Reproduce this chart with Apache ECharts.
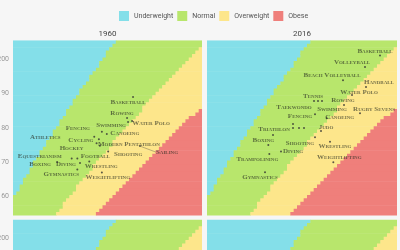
<!DOCTYPE html>
<html>
<head>
<meta charset="utf-8">
<style>
  html, body { margin: 0; padding: 0; background: #f6f6f6; overflow: hidden; }
  #chart { width: 400px; height: 420px; }
</style>
<script src="https://cdn.jsdelivr.net/npm/echarts@6/dist/echarts.min.js"></script>
</head>
<body>
<div id="chart"></div>
<script>
// BMI classes used for the background
const bmiClasses = ['Underweight', 'Normal', 'Overweight', 'Obese'];
const bmiLimits = [18.5, 25, 30];
const classColors = ['#84dfe9', '#b8e66c', '#fde68b', '#ef7f7b'];

// grid of the background (1 kg x 1 cm cells)
const heightRange = [155, 205];
const weightRange = [47.5, 103.5];
const yTicks = [160, 170, 180, 190, 200];
const years = ['1960', '2016'];

// 1960
const sports1960 = ['Basketball', 'Rowing', 'Swimming', 'Water Polo', 'Fencing', 'Canoeing', 'Athletics',
    'Cycling', 'Hockey', 'Modern Pentathlon', 'Shooting', 'Sailing', 'Equestrianism', 'Football',
    'Wrestling', 'Boxing', 'Diving', 'Gymnastics', 'Weightlifting'];
const weight1960 = [83.2, 81.4, 81.7, 82.9, 73.8, 75.3, 71.5, 72.9, 72.2, 73.2, 75.7, 85.3, 64.7, 66.4,
    70.0, 60.3, 67.2, 66.4, 73.8];
const height1960 = [189.0, 182.9, 181.7, 182.0, 178.9, 178.2, 177.4, 176.7, 175.5, 174.8, 173.1, 174.7,
    171.1, 171.1, 170.2, 170.1, 169.8, 167.9, 167.0];

// 2016
const sports2016 = ['Basketball', 'Volleyball', 'Beach Volleyball', 'Handball', 'Water Polo', 'Tennis',
    'Taekwondo', 'Swimming', 'Rowing', 'Rugby Sevens', 'Fencing', 'Canoeing', 'Judo', 'Athletics',
    'Cycling', 'Hockey', 'Football', 'Triathlon', 'Shooting', 'Wrestling', 'Boxing', 'Diving',
    'Trampolining', 'Weightlifting', 'Gymnastics'];
const weight2016 = [98.9, 94.4, 87.8, 94.7, 90.5, 79.1, 80.3, 81.5, 88.1, 92.9, 79.4, 82.9, 81.2, 72.8,
    72.8, 74.6, 76.1, 66.8, 79.4, 83.9, 65.4, 69.2, 65.7, 84.9, 64.4];
const height2016 = [201.1, 197.7, 193.9, 191.9, 189.6, 187.8, 187.8, 187.8, 186.7, 184.3, 184.0, 182.8,
    179.1, 181.1, 180.0, 180.0, 180.0, 177.9, 177.3, 176.0, 175.0, 173.1, 172.4, 170.0, 167.1];
const unlabeled2016 = ['Athletics', 'Cycling', 'Hockey', 'Football'];

// where each label sits, relative to its dot (px)
const labelShift = [{
    'Basketball': [-5, 5], 'Rowing': [-5, -5], 'Swimming': [-17, 3], 'Water Polo': [19, 2],
    'Fencing': [-24, -3], 'Canoeing': [18, -1], 'Athletics': [-49, 0], 'Cycling': [-18, 1],
    'Hockey': [-25, 5], 'Modern Pentathlon': [29, -2], 'Shooting': [20, 3], 'Sailing': [27, 6],
    'Equestrianism': [-32, -2], 'Football': [18, -2], 'Wrestling': [12, 5], 'Boxing': [-17, 2],
    'Diving': [-14, 1], 'Gymnastics': [-16, 5], 'Weightlifting': [6, 5]
}, {
    'Basketball': [-5, -4], 'Volleyball': [-13, -5], 'Beach Volleyball': [-11, -5], 'Handball': [13, -5],
    'Water Polo': [7, -3], 'Tennis': [-1, -5], 'Taekwondo': [-24, 6], 'Swimming': [10, 8],
    'Rowing': [-1, -5], 'Rugby Sevens': [14, -4], 'Fencing': [-15, 2], 'Canoeing': [13, -1],
    'Judo': [5, -4], 'Triathlon': [1, -6], 'Shooting': [-15, 6], 'Wrestling': [5, 5],
    'Boxing': [-5, -5], 'Diving': [12, 0], 'Trampolining': [-12, 5], 'Weightlifting': [6, -5],
    'Gymnastics': [-5, 5]
}];

function bmiClass(w, h) {
    let bmi = w / Math.pow(h / 100, 2);
    let c = 0;
    bmiLimits.forEach(function (l) { if (bmi >= l) c++; });
    return c;
}

// one row segment per height and class: [wStart, wEnd, h]
function classRows(c) {
    let rows = [];
    for (let h = heightRange[0]; h <= heightRange[1]; h++) {
        let ws = [];
        for (let w = weightRange[0]; w <= weightRange[1]; w++) {
            if (bmiClass(w, h) === c) ws.push(w);
        }
        if (ws.length) rows.push([ws[0], ws[ws.length - 1], h]);
    }
    return rows;
}

function renderRow(params, api) {
    let p0 = api.coord([api.value(0) - 0.5, api.value(2) + 0.5]);
    let p1 = api.coord([api.value(1) + 0.5, api.value(2) - 0.5]);
    return {
        type: 'rect',
        shape: { x: p0[0], y: p0[1], width: p1[0] - p0[0] + 0.5, height: p1[1] - p0[1] + 0.6 },
        style: { fill: api.visual('color') }
    };
}

let myChart = echarts.init(document.getElementById('chart'));

const panels = [
    { left: 13, top: 40.3, width: 189 },
    { left: 207, top: 40.3, width: 190 },
    { left: 13, top: 219.5, width: 189 },
    { left: 207, top: 219.5, width: 190 }
];

let grids = [], xAxes = [], yAxes = [], series = [];
panels.forEach(function (p, i) {
    grids.push({
        left: p.left, top: p.top, width: p.width, height: 175.2,
        containLabel: false, outerBoundsMode: 'none'
    });
    xAxes.push({
        gridIndex: i, type: 'value', min: weightRange[0] - 0.5, max: weightRange[1] + 0.5,
        axisLine: { show: false }, axisTick: { show: false }, axisLabel: { show: false },
        splitLine: { show: false }
    });
    yAxes.push({
        gridIndex: i, type: 'value', min: heightRange[0] - 0.5, max: heightRange[1] + 0.5,
        axisLine: { show: false }, axisTick: { show: false }, splitLine: { show: false },
        axisLabel: {
            show: i % 2 === 0, customValues: yTicks, margin: 4,
            fontSize: 7, color: '#999', fontFamily: 'Roboto'
        }
    });
    bmiClasses.forEach(function (name, c) {
        series.push({
            name: name, type: 'custom', xAxisIndex: i, yAxisIndex: i,
            renderItem: renderRow, clip: true, silent: true,
            itemStyle: { color: classColors[c] },
            data: classRows(c), z: 1
        });
    });
});

function sportSeries(idx, names, weights, heights, hidden) {
    let shift = labelShift[idx];
    return {
        type: 'scatter', xAxisIndex: idx, yAxisIndex: idx, z: 5,
        symbolSize: 2, itemStyle: { color: '#333' },
        label: {
            show: true, position: 'inside', formatter: '{b}',
            fontSize: 7, fontWeight: 'bold', fontStyle: 'small-caps',
            fontFamily: 'Liberation Serif', color: 'rgba(40,45,35,0.8)'
        },
        labelLine: { show: false, lineStyle: { color: 'rgba(60,60,60,0.6)', width: 0.6 } },
        labelLayout: function (params) {
            let s = shift[names[params.dataIndex]] || [0, 0];
            return { dx: s[0], dy: s[1] };
        },
        data: names.map(function (n, k) {
            let item = { name: n, value: [weights[k], heights[k]] };
            if (hidden && hidden.indexOf(n) >= 0) item.label = { show: false };
            if (n === 'Sailing') item.labelLine = { show: true };
            return item;
        })
    };
}
series.push(sportSeries(0, sports1960, weight1960, height1960));
series.push(sportSeries(1, sports2016, weight2016, height2016, unlabeled2016));

let option = {
    backgroundColor: '#f6f6f6',
    animation: false,
    legend: {
        data: bmiClasses, top: 6, left: 114, icon: 'rect',
        itemWidth: 10, itemHeight: 10, itemGap: 4, selectedMode: false,
        textStyle: { fontSize: 7, color: '#555', fontFamily: 'Roboto' }
    },
    graphic: years.map(function (y, i) {
        return {
            type: 'text', x: panels[i].left + panels[i].width / 2, y: 34,
            style: { text: y, textAlign: 'center', textVerticalAlign: 'middle', fontSize: 8, fill: '#444', fontFamily: 'Roboto' }
        };
    }),
    grid: grids,
    xAxis: xAxes,
    yAxis: yAxes,
    series: series
};
myChart.setOption(option);
window.addEventListener('resize', function () {
    myChart.resize();
});
</script>
